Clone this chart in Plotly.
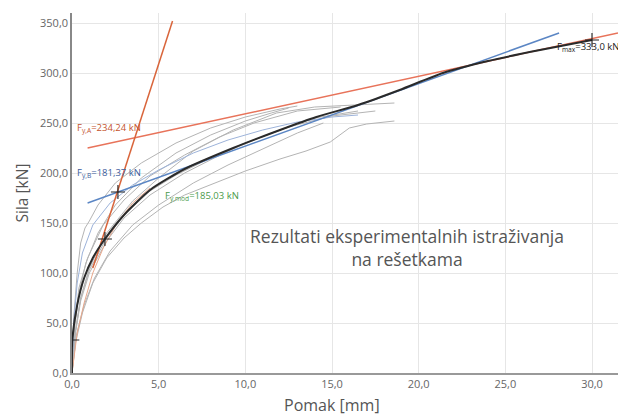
import plotly.graph_objects as go

# ---- data ----
gray_curves = [
    ([0, 0.1, 0.3, 0.5, 0.75, 1.0, 1.5, 2.5, 4, 6, 8, 10, 12, 13],
     [0, 55, 100, 130, 145, 152, 168, 190, 210, 230, 245, 256, 264, 267]),
    ([0, 0.15, 0.4, 0.8, 1.5, 2.5, 4, 6, 8, 10, 11.5, 12.5],
     [0, 45, 80, 110, 140, 168, 195, 220, 238, 252, 260, 265]),
    ([0, 0.2, 0.5, 1, 2, 3, 4.5, 6.5, 9, 11.5, 14, 16.5],
     [0, 40, 72, 100, 132, 155, 178, 200, 222, 240, 255, 262]),
    ([0, 0.2, 0.5, 1, 2, 3.5, 5, 7, 9.3, 11.8, 14, 16.8, 18.6],
     [0, 42, 75, 105, 140, 172, 195, 222, 243, 260, 266, 268, 270]),
    ([0, 0.2, 0.6, 1.2, 2, 3, 4, 5.25, 6.5, 8.4, 10, 12, 13.5, 14.9, 16, 17, 18.6],
     [0, 30, 60, 90, 115, 135, 150, 166, 178, 191, 202, 214, 222, 231, 245, 249, 252]),
    ([0, 0.25, 0.7, 1.3, 2.2, 3.5, 5, 7, 9, 11, 13, 14.5],
     [0, 38, 68, 95, 122, 148, 168, 190, 208, 224, 240, 250]),
    ([0, 0.2, 0.5, 1, 2, 3, 4.5, 6, 8, 10, 12.5, 15, 17.5],
     [0, 42, 75, 103, 135, 158, 182, 198, 215, 230, 246, 257, 262]),
    ([0, 0.15, 0.4, 0.9, 1.8, 3, 4.5, 6.5, 8.5, 10.5, 13, 15.5],
     [0, 48, 85, 115, 148, 173, 197, 218, 236, 250, 262, 266]),
]
blue_thin_x = [0, 0.1, 0.3, 0.6, 1.2, 2.2, 3.5, 5, 7, 9, 11, 13, 15, 16.5]
blue_thin_y = [0, 50, 90, 120, 148, 170, 188, 203, 220, 233, 243, 251, 256, 258]
orange_thin_x = [0, 0.3, 0.7, 1.2, 1.8, 2.6, 3.5, 4.5]
orange_thin_y = [0, 40, 70, 100, 125, 150, 170, 185]

mean_x = [0, 0.02, 0.3, 0.7, 1.2, 1.9, 3, 4.5, 6.5, 9.3, 12, 14.1, 16.5, 18.9, 21.4, 24, 27, 30]
mean_y = [0, 33, 68, 95, 115, 134, 158, 183, 204, 225, 243, 256, 268, 283, 300, 312, 323, 333]

red_steep_x = [1.2, 5.8]
red_steep_y = [105, 352]
red_flat_x = [0.9, 31.5]
red_flat_y = [225, 340]
blue_line_x = [0.9, 28.1]
blue_line_y = [170, 340]

marker_x = [0.02, 1.9, 2.65, 30]
marker_y = [33, 134, 181, 333]

x_ticks = [0, 5, 10, 15, 20, 25, 30]
y_ticks = [0, 50, 100, 150, 200, 250, 300, 350]

fig = go.Figure()
for gx, gy in gray_curves:
    fig.add_trace(go.Scatter(x=gx, y=gy, mode="lines",
                             line=dict(color="#b4b4b4", width=1)))
fig.add_trace(go.Scatter(x=blue_thin_x, y=blue_thin_y, mode="lines",
                         line=dict(color="#9db3da", width=1)))
fig.add_trace(go.Scatter(x=orange_thin_x, y=orange_thin_y, mode="lines",
                         line=dict(color="#e8a88c", width=1)))
fig.add_trace(go.Scatter(x=red_flat_x, y=red_flat_y, mode="lines",
                         line=dict(color="#e8735a", width=1.5)))
fig.add_trace(go.Scatter(x=blue_line_x, y=blue_line_y, mode="lines",
                         line=dict(color="#5b86c4", width=1.5)))
fig.add_trace(go.Scatter(x=red_steep_x, y=red_steep_y, mode="lines",
                         line=dict(color="#d9653b", width=1.5)))
fig.add_trace(go.Scatter(x=mean_x, y=mean_y, mode="lines",
                         line=dict(color="#2a2a2a", width=2, shape="spline", smoothing=0.6)))
fig.add_trace(go.Scatter(x=marker_x, y=marker_y, mode="markers",
                         marker=dict(symbol="cross-thin", size=10,
                                     line=dict(color="#222", width=1.1))))

lab_font = dict(family="Open Sans", size=9.5)
fig.add_annotation(x=0.17, y=245, text="F<sub>y,A</sub>=234,24 kN", showarrow=False,
                   xanchor="left", font=dict(color="#c4532d", **lab_font))
fig.add_annotation(x=0.17, y=200, text="F<sub>y,B</sub>=181,37 kN", showarrow=False,
                   xanchor="left", font=dict(color="#3b5c9c", **lab_font))
fig.add_annotation(x=5.25, y=177, text="F<sub>y,mod</sub>=185,03 kN", showarrow=False,
                   xanchor="left", font=dict(color="#4a9a4a", **lab_font))
fig.add_annotation(x=27.85, y=326, text="F<sub>max</sub>=333,0 kN", showarrow=False,
                   xanchor="left", font=dict(color="#222", **lab_font))
fig.add_annotation(x=19.3, y=126, text="Rezultati eksperimentalnih istraživanja<br>na rešetkama",
                   showarrow=False, font=dict(family="Open Sans", size=17.5, color="#555"))
fig.add_annotation(xref="paper", yref="paper", x=0.476, y=-0.089, yanchor="middle",
                   text="Pomak [mm]", showarrow=False,
                   font=dict(family="Open Sans", size=16, color="#555"))

fig.update_layout(
    width=618, height=415, showlegend=False,
    plot_bgcolor="white", paper_bgcolor="white",
    margin=dict(l=72, r=0, t=13, b=42, autoexpand=False),
    separators=",.",
    font=dict(family="Open Sans", color="#666"),
)
fig.update_xaxes(range=[0, 31.5], tickvals=x_ticks, tickformat=".1f",
                 showgrid=True, gridcolor="#e6e6e6", zeroline=False,
                 showline=True, linecolor="#999", linewidth=1.5,
                 tickfont=dict(size=11, color="#666"))
fig.update_yaxes(range=[0, 360], tickvals=y_ticks, tickformat=".1f",
                 showgrid=True, gridcolor="#e6e6e6", zeroline=False,
                 showline=True, linecolor="#888", linewidth=1.5,
                 tickfont=dict(size=11, color="#666"),
                 title=dict(text="Sila [kN]", font=dict(size=15.5, color="#555"), standoff=8))

fig.write_html("out.html", config={"displayModeBar": False},
               post_script="document.body.style.margin='0';")
